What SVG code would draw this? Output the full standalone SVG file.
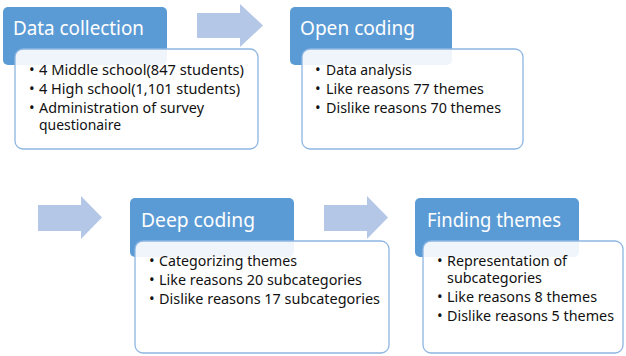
<svg xmlns="http://www.w3.org/2000/svg" width="626" height="356" viewBox="0 0 626 356">
<style>
.hdr{fill:#5B9BD5}
.body{fill:#ffffff;fill-opacity:0.9;stroke:#8DB6E2;stroke-width:1.3}
.arrow{fill:#B4C7E7}
.ht{font-family:"Noto Sans","Liberation Sans",sans-serif;font-size:20px;fill:#ffffff}
.bt{font-family:"Noto Sans","Liberation Sans",sans-serif;font-size:15px;fill:#111111}
</style>
<rect width="626" height="356" fill="#ffffff"/>
<g id="connectors">
<polygon class="arrow" points="197,13 240,13 240,4 263,25.5 240,47 240,38 197,38"/>
<polygon class="arrow" points="38,205 81,205 81,196 102,217.5 81,239 81,231 38,231"/>
<polygon class="arrow" points="324,205 367,205 367,196 388,217.5 367,239 367,231 324,231"/>
</g>
<g id="data-collection">
<rect class="hdr" x="3" y="7" width="164" height="58" rx="5"/>
<text class="ht" x="13" y="35" textLength="131" lengthAdjust="spacingAndGlyphs">Data collection</text>
<rect class="body" x="15" y="49" width="243" height="100" rx="8"/>
<text class="bt" x="29" y="75">•</text>
<text class="bt" x="39" y="75" textLength="205" lengthAdjust="spacingAndGlyphs">4 Middle school(847 students)</text>
<text class="bt" x="29" y="94">•</text>
<text class="bt" x="39" y="94" textLength="201" lengthAdjust="spacingAndGlyphs">4 High school(1,101 students)</text>
<text class="bt" x="29" y="113">•</text>
<text class="bt"><tspan x="39" y="113" textLength="165" lengthAdjust="spacingAndGlyphs">Administration of survey</tspan><tspan x="39" y="130" textLength="82" lengthAdjust="spacingAndGlyphs">questionaire</tspan></text>
</g>
<g id="open-coding">
<rect class="hdr" x="290" y="7" width="162" height="58" rx="5"/>
<text class="ht" x="300" y="35" textLength="115" lengthAdjust="spacingAndGlyphs">Open coding</text>
<rect class="body" x="302" y="49" width="221" height="100" rx="8"/>
<text class="bt" x="315" y="75">•</text>
<text class="bt" x="326" y="75" textLength="86" lengthAdjust="spacingAndGlyphs">Data analysis</text>
<text class="bt" x="315" y="94">•</text>
<text class="bt" x="326" y="94" textLength="158" lengthAdjust="spacingAndGlyphs">Like reasons 77 themes</text>
<text class="bt" x="315" y="113">•</text>
<text class="bt" x="326" y="113" textLength="175" lengthAdjust="spacingAndGlyphs">Dislike reasons 70 themes</text>
</g>
<g id="deep-coding">
<rect class="hdr" x="130" y="198" width="164" height="59" rx="5"/>
<text class="ht" x="141" y="227" textLength="114" lengthAdjust="spacingAndGlyphs">Deep coding</text>
<rect class="body" x="135" y="241" width="254" height="112" rx="8"/>
<text class="bt" x="149" y="266">•</text>
<text class="bt" x="159" y="266" textLength="138" lengthAdjust="spacingAndGlyphs">Categorizing themes</text>
<text class="bt" x="149" y="285">•</text>
<text class="bt" x="159" y="285" textLength="203" lengthAdjust="spacingAndGlyphs">Like reasons 20 subcategories</text>
<text class="bt" x="149" y="304">•</text>
<text class="bt" x="159" y="304" textLength="221" lengthAdjust="spacingAndGlyphs">Dislike reasons 17 subcategories</text>
</g>
<g id="finding-themes">
<rect class="hdr" x="415" y="198" width="164" height="59" rx="5"/>
<text class="ht" x="427" y="227" textLength="134" lengthAdjust="spacingAndGlyphs">Finding themes</text>
<rect class="body" x="423" y="241" width="200" height="112" rx="8"/>
<text class="bt" x="437" y="266">•</text>
<text class="bt"><tspan x="447" y="266" textLength="120" lengthAdjust="spacingAndGlyphs">Representation of</tspan><tspan x="447" y="283" textLength="95" lengthAdjust="spacingAndGlyphs">subcategories</tspan></text>
<text class="bt" x="437" y="302">•</text>
<text class="bt" x="447" y="302" textLength="150" lengthAdjust="spacingAndGlyphs">Like reasons 8 themes</text>
<text class="bt" x="437" y="321">•</text>
<text class="bt" x="447" y="321" textLength="167" lengthAdjust="spacingAndGlyphs">Dislike reasons 5 themes</text>
</g>
</svg>
